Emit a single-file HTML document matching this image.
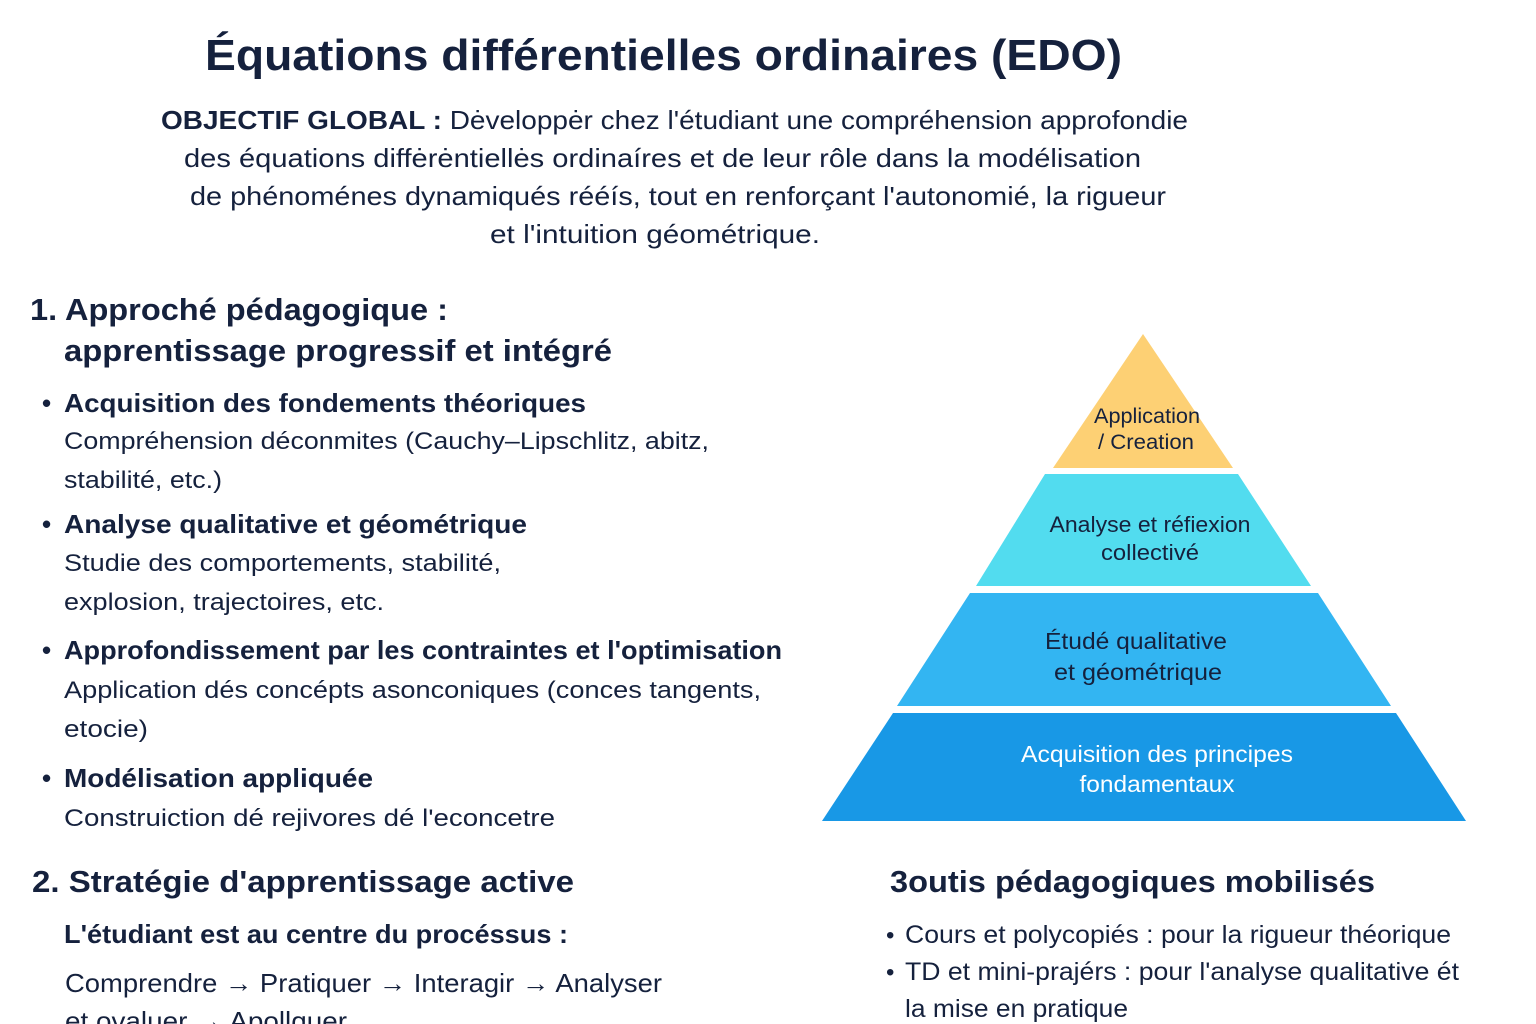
<!DOCTYPE html>
<html><head><meta charset="utf-8"><style>
html,body{margin:0;padding:0;background:#fff;}
svg{display:block;}
text{font-family:"Liberation Sans",sans-serif;fill:#15213d;}
.b{font-weight:bold;}
</style></head><body>
<svg width="1536" height="1024" viewBox="0 0 1536 1024" xmlns="http://www.w3.org/2000/svg">
<rect width="1536" height="1024" fill="#fff"/>
<text x="205" y="70" font-size="44" class="b" textLength="917" lengthAdjust="spacingAndGlyphs">Équations différentielles ordinaires (EDO)</text>
<text x="161" y="129" font-size="26" textLength="1027" lengthAdjust="spacingAndGlyphs"><tspan class="b">OBJECTIF GLOBAL :</tspan> Dėvelоppėr chez l'étudiant une compréhension approfondie</text>
<text x="184" y="167" font-size="26" textLength="957" lengthAdjust="spacingAndGlyphs">des équations diffėrėntiellės ordinaíres et de leur rôle dans la modélisation</text>
<text x="190" y="205" font-size="26" textLength="976" lengthAdjust="spacingAndGlyphs">de phénoménes dynamiqués rééís, tout en renforçant l'autonomié, la rigueur</text>
<text x="490" y="243" font-size="26" textLength="330" lengthAdjust="spacingAndGlyphs">et l'intuition géométrique.</text>

<text x="30" y="320" font-size="31" class="b" textLength="418" lengthAdjust="spacingAndGlyphs">1. Approché pédagogique :</text>
<text x="64" y="361" font-size="31" class="b" textLength="548" lengthAdjust="spacingAndGlyphs">apprentissage progressif et intégré</text>

<text x="42" y="412" font-size="26" class="b">•</text>
<text x="64" y="412" font-size="26" class="b" textLength="522" lengthAdjust="spacingAndGlyphs">Acquisition des fondements théoriques</text>
<text x="64" y="449" font-size="24" textLength="645" lengthAdjust="spacingAndGlyphs">Compréhension déconmites (Cauchy–Lipschlitz, abitz,</text>
<text x="64" y="488" font-size="24" textLength="158" lengthAdjust="spacingAndGlyphs">stabilité, etc.)</text>

<text x="42" y="533" font-size="26" class="b">•</text>
<text x="64" y="533" font-size="26" class="b" textLength="463" lengthAdjust="spacingAndGlyphs">Analyse qualitative et géométrique</text>
<text x="64" y="571" font-size="24" textLength="437" lengthAdjust="spacingAndGlyphs">Studie des comportements, stabilité,</text>
<text x="64" y="610" font-size="24" textLength="320" lengthAdjust="spacingAndGlyphs">explosion, trajectoires, etc.</text>

<text x="42" y="659" font-size="26" class="b">•</text>
<text x="64" y="659" font-size="26" class="b" textLength="718" lengthAdjust="spacingAndGlyphs">Approfondissement par les contraintes et l'optimisation</text>
<text x="64" y="698" font-size="24" textLength="697" lengthAdjust="spacingAndGlyphs">Application dés concépts asonconiques (conces tangents,</text>
<text x="64" y="737" font-size="24" textLength="84" lengthAdjust="spacingAndGlyphs">etocie)</text>

<text x="42" y="787" font-size="26" class="b">•</text>
<text x="64" y="787" font-size="26" class="b" textLength="309" lengthAdjust="spacingAndGlyphs">Modélisation appliquée</text>
<text x="64" y="826" font-size="24" textLength="491" lengthAdjust="spacingAndGlyphs">Construiction dé rejivores dé l'econcetre</text>

<text x="32" y="892" font-size="31" class="b" textLength="542" lengthAdjust="spacingAndGlyphs">2. Stratégie d'apprentissage active</text>
<text x="64" y="943" font-size="26" class="b" textLength="504" lengthAdjust="spacingAndGlyphs">L'étudiant est au centre du procéssus :</text>
<text x="65" y="992" font-size="26" textLength="597" lengthAdjust="spacingAndGlyphs">Comprendre → Pratiquer → Interagir → Analyser</text>
<text x="65" y="1030" font-size="26" textLength="282" lengthAdjust="spacingAndGlyphs">et ovaluer → Apollquer</text>

<text x="890" y="892" font-size="31" class="b" textLength="485" lengthAdjust="spacingAndGlyphs">3outis pédagogiques mobilisés</text>
<text x="886" y="943" font-size="24">•</text>
<text x="905" y="943" font-size="25" textLength="546" lengthAdjust="spacingAndGlyphs">Cours et polycopiés : pour la rigueur théorique</text>
<text x="886" y="980" font-size="24">•</text>
<text x="905" y="980" font-size="25" textLength="554" lengthAdjust="spacingAndGlyphs">TD et mini-prajérs : pour l'analyse qualitative ét</text>
<text x="905" y="1017" font-size="25" textLength="223" lengthAdjust="spacingAndGlyphs">la mise en pratique</text>

<polygon points="1143,334 1233,468 1053,468" fill="#fdd074"/>
<polygon points="1045,474 1238,474 1311,586 976,586" fill="#52dcef"/>
<polygon points="970,593 1318,593 1391,706 897,706" fill="#33b5f2"/>
<polygon points="893,713 1396,713 1466,821 822,821" fill="#1898e6"/>

<text x="1147" y="423" font-size="21" text-anchor="middle" textLength="106" lengthAdjust="spacingAndGlyphs">Application</text>
<text x="1146" y="449" font-size="21" text-anchor="middle" textLength="96" lengthAdjust="spacingAndGlyphs">/ Creation</text>
<text x="1150" y="532" font-size="22" text-anchor="middle" textLength="201" lengthAdjust="spacingAndGlyphs">Analyse et réfiexion</text>
<text x="1150" y="560" font-size="22" text-anchor="middle" textLength="98" lengthAdjust="spacingAndGlyphs">collectivé</text>
<text x="1136" y="649" font-size="23" text-anchor="middle" textLength="182" lengthAdjust="spacingAndGlyphs">Étudé qualitative</text>
<text x="1138" y="680" font-size="23" text-anchor="middle" textLength="168" lengthAdjust="spacingAndGlyphs">et géométrique</text>
<text x="1157" y="762" font-size="23" text-anchor="middle" textLength="272" lengthAdjust="spacingAndGlyphs" style="fill:#fff">Acquisition des principes</text>
<text x="1157" y="792" font-size="23" text-anchor="middle" textLength="155" lengthAdjust="spacingAndGlyphs" style="fill:#fff">fondamentaux</text>
</svg>
</body></html>
